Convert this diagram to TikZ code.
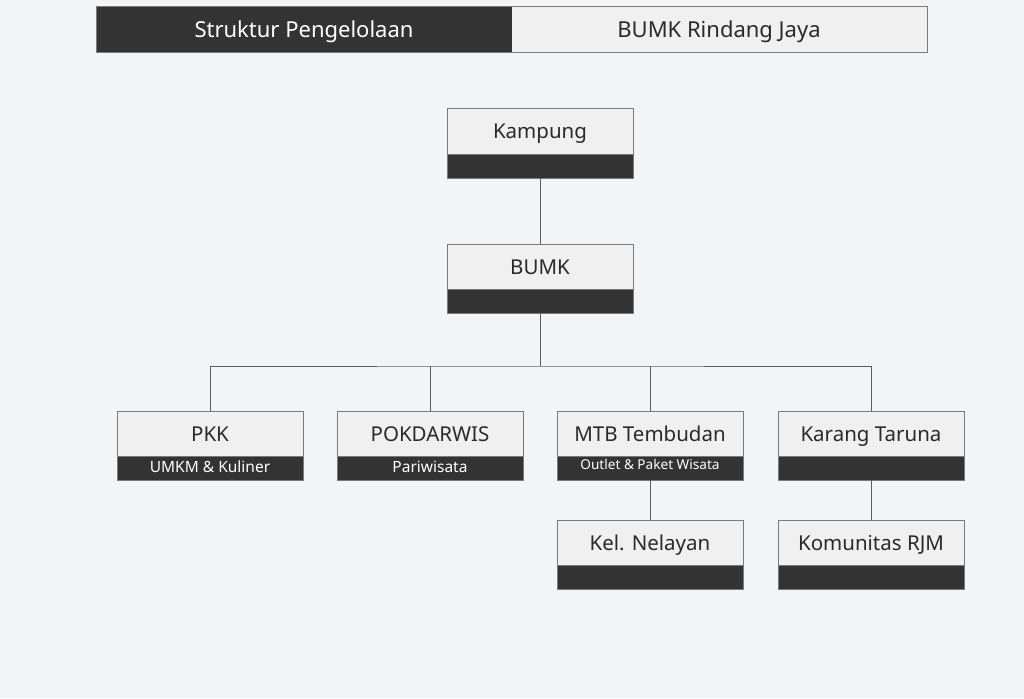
\documentclass[tikz,border=0pt]{standalone}
\usepackage{fontspec}
\setmainfont{Noto Sans}
\definecolor{bg}{HTML}{F3F4F6}
\definecolor{boxfill}{HTML}{F0F0F0}
\definecolor{dark}{HTML}{333333}
\definecolor{edge}{HTML}{7A7A7A}
\definecolor{txt}{HTML}{2A2A2A}
\begin{document}
\begin{tikzpicture}[x=1pt,y=-1pt,
  title/.style={font=\fontsize{20.5}{22}\selectfont,text=txt,anchor=base,inner sep=0pt},
  sub/.style={font=\fontsize{15.5}{17}\selectfont,text=white,anchor=base,inner sep=0pt},
  tiny/.style={font=\fontsize{13.6}{15}\selectfont,text=white,anchor=base,inner sep=0pt},
  head/.style={font=\fontsize{22}{24}\selectfont,anchor=base,inner sep=0pt},
  conn/.style={draw=dark!80,line width=0.9pt}]
\fill[bg] (0,0) rectangle (1024,698);
\useasboundingbox (0,0) rectangle (1024,698);
% header
\fill[dark] (96,7) rectangle (512,53);
\fill[boxfill] (512,7) rectangle (927,53);
\draw[edge,line width=1pt] (96,7) rectangle (927,53);
\node[head,text=white] (hl) at (304,37.5) {Struktur Pengelolaan};
\node[head,text=txt] (hr) at (719,37.5) {BUMK Rindang Jaya};
% boxes: name, x0, y0, title, subtitle, subtitle style, subtitle baseline offset
\newcommand{\orgbox}[7]{%
  \fill[boxfill] (#2,#3) rectangle (#2+186,#3+45);
  \fill[dark] (#2,#3+45) rectangle (#2+186,#3+69);
  \draw[edge,line width=1pt] (#2,#3) rectangle (#2+186,#3+69);
  \draw[edge,line width=1pt] (#2,#3+45) -- (#2+186,#3+45);
  \node[title] (#1) at (#2+93,#3+30) {#4};
  \coordinate (#1top) at (#2+93,#3);
  \coordinate (#1bot) at (#2+93,#3+69);
  \node[#6] (#1sub) at (#2+93,#3+#7) {#5};
}
\orgbox{kampung}{447}{109}{Kampung}{}{sub}{61}
\orgbox{bumk}{447}{244}{BUMK}{}{sub}{61}
\orgbox{pkk}{117}{411}{PKK}{UMKM \& Kuliner}{sub}{61}
\orgbox{pok}{337}{411}{POKDARWIS}{Pariwisata}{sub}{61}
\orgbox{mtb}{557}{411}{MTB Tembudan}{Outlet \& Paket Wisata}{tiny}{58}
\orgbox{kt}{778}{411}{Karang Taruna}{}{sub}{61}
\orgbox{kel}{557}{520}{Kel. Nelayan}{}{sub}{61}
\orgbox{kom}{778}{520}{Komunitas RJM}{}{sub}{61}
% connectors
\coordinate (hub) at (540,366);
\draw[conn] (kampungbot) -- (bumktop);
\draw[conn] (bumkbot) -- (hub);
\draw[conn] (pkktop) |- (hub) -| (kttop);
\draw[conn] (poktop) -- (poktop |- hub);
\draw[conn] (mtbtop) -- (mtbtop |- hub);
\draw[conn] (mtbbot) -- (keltop);
\draw[conn] (ktbot) -- (komtop);
\end{tikzpicture}
\end{document}
